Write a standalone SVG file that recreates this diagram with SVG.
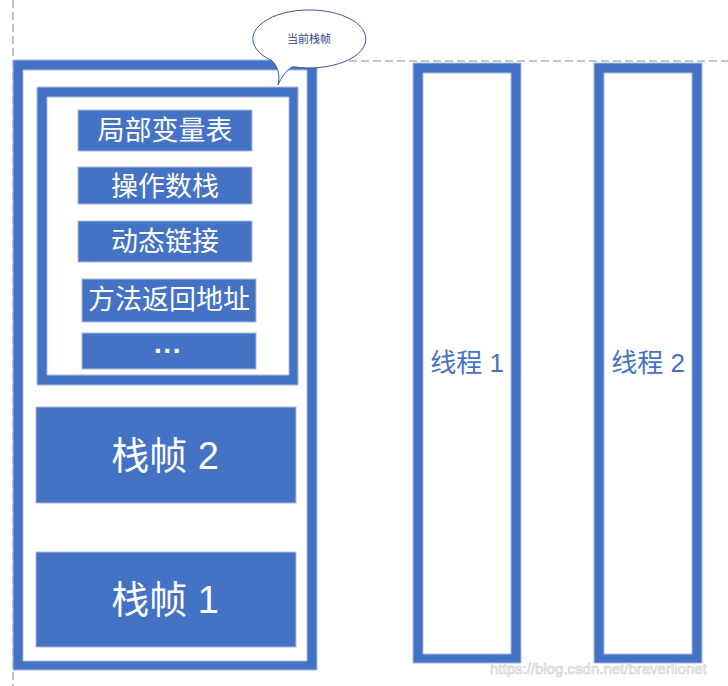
<svg xmlns="http://www.w3.org/2000/svg" width="728" height="686" viewBox="0 0 728 686">
<style>
.frame{fill:#4472c4;fill-rule:evenodd;stroke:#a9bce0;stroke-width:1}
.box{fill:#4472c4;stroke:#a9bce0;stroke-width:1}
.wt{fill:#ffffff;font-family:"Liberation Sans","Noto Sans CJK SC",sans-serif;text-anchor:middle}
.bt{fill:#4472c4;font-family:"Liberation Sans","Noto Sans CJK SC",sans-serif;text-anchor:middle;font-size:26px}
.guide{stroke:#b4b4b4;stroke-width:1.5;stroke-dasharray:8 4;fill:none}
</style>
<rect width="728" height="686" fill="#ffffff"/>
<g id="guides">
<line class="guide" x1="13" y1="61" x2="728" y2="61"/>
<line class="guide" x1="13" y1="0" x2="13" y2="686" stroke-width="1" stroke="#d8d8d8"/>
</g>
<g id="stack">
<path class="frame" d="M13 60H317V670H13Z M23 70V661H307V70Z"/>
</g>
<g id="current-frame">
<path class="frame" d="M37 87H298V385H37Z M47 97V375H289V97Z"/>
</g>
<g id="local-vars">
<rect class="box" x="78" y="110" width="174" height="41"/>
<text class="wt" x="165" y="140" font-size="27">局部变量表</text>
</g>
<g id="operand-stack">
<rect class="box" x="78" y="167" width="174" height="37"/>
<text class="wt" x="165" y="196" font-size="27">操作数栈</text>
</g>
<g id="dynamic-link">
<rect class="box" x="78" y="221" width="174" height="41"/>
<text class="wt" x="165" y="251" font-size="27">动态链接</text>
</g>
<g id="return-address">
<rect class="box" x="82" y="279" width="174" height="43"/>
<text class="wt" x="169" y="309" font-size="27">方法返回地址</text>
</g>
<g id="more">
<rect class="box" x="82" y="333" width="174" height="36"/>
<text class="wt" x="168" y="353" font-size="28" font-weight="bold" letter-spacing="1.5">...</text>
</g>
<g id="frame2">
<rect class="box" x="36" y="407" width="260" height="96"/>
<text class="wt" x="165" y="469" font-size="38">栈帧 2</text>
</g>
<g id="frame1">
<rect class="box" x="36" y="552" width="260" height="95"/>
<text class="wt" x="165" y="613" font-size="38">栈帧 1</text>
</g>
<g id="thread1">
<path class="frame" d="M413 63H521V663H413Z M423 73V654H511V73Z"/>
<text class="bt" x="467" y="372">线程 1</text>
</g>
<g id="thread2">
<path class="frame" d="M594 63H702V663H594Z M604 73V654H692V73Z"/>
<text class="bt" x="648" y="372">线程 2</text>
</g>
<g id="callout">
<path d="M272 60.7 A56.5 29 0 1 1 293 66.7 C286 70 281 78 278 85 C280 77 279 68 272 60.7 Z" fill="#ffffff" stroke="#3b5693" stroke-width="1"/>
<text x="309" y="43" font-size="11" fill="#2f4484" text-anchor="middle" font-family="'Liberation Sans','Noto Sans CJK SC',sans-serif">当前栈帧</text>
</g>
<g id="watermark">
<text x="490" y="674" font-size="15" fill="#ffffff" stroke="#c4c4c4" stroke-width="0.6" font-family="'Liberation Sans',sans-serif" opacity="0.9">https://blog.csdn.net/braverlionet</text>
</g>
</svg>
